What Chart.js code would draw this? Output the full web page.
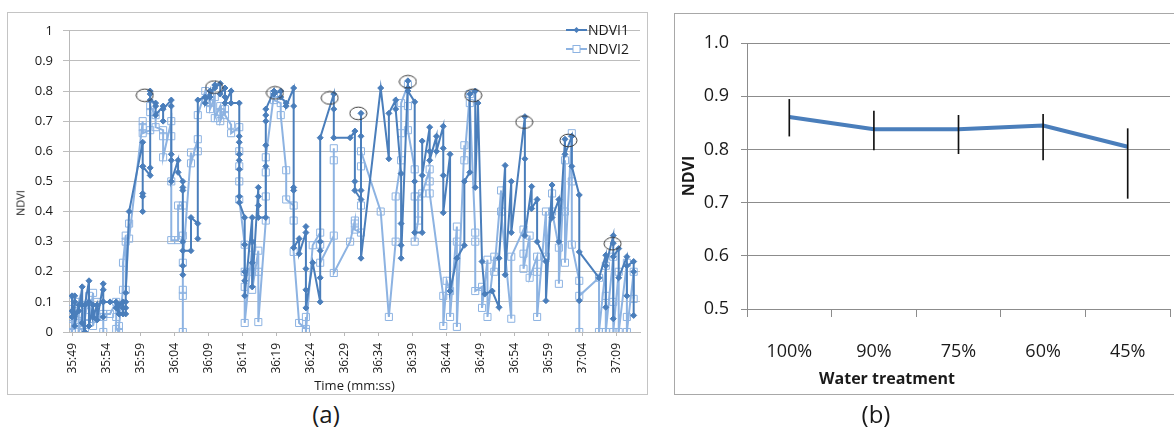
<!DOCTYPE html>
<html>
<head>
<meta charset="utf-8">
<script src="https://cdn.jsdelivr.net/npm/chart.js@4.4.1/dist/chart.umd.min.js"></script>
<style>
    body { margin: 0; width: 1174px; height: 430px; overflow: hidden; background: #fff; font-family: 'Open Sans', sans-serif; color: #1a1a1a; }
    .frame { position: absolute; box-sizing: border-box; }
    #frameA { left: 7px; top: 12px; width: 641px; height: 383px; border: 1px solid #c4c4c4; }
    #frameB { left: 674px; top: 13px; width: 510px; height: 382px; border: 1px solid #a8a8a8; }
    .frame canvas { position: absolute; left: 0; top: 0; }
    .txt { position: absolute; white-space: nowrap; transform: translate(-50%, -50%); }
    .cap { font-size: 24px; line-height: 28px; }
    #legendA { position: absolute; left: 566px; top: 20px; font-size: 14px; line-height: 19px; }
    #legendA .row { height: 19px; display: flex; align-items: center; }
    #legendA svg { margin-right: 1px; }
</style>
</head>
<body>
<div class="frame" id="frameA"><canvas id="chart-a" width="639" height="381"></canvas></div>
<div class="frame" id="frameB"><canvas id="chart-b" width="500" height="380"></canvas></div>
<div id="legendA"></div>
<div class="txt" style="left:20px; top:203px; font-size:11px; transform: translate(-50%, -50%) rotate(-90deg);">NDVI</div>
<div class="txt" style="left:887px; top:378px; font-size:16px; font-weight:bold;">Water treatment</div>
<div class="txt cap" style="left:326px; top:414px;">(a)</div>
<div class="txt cap" style="left:876px; top:414px;">(b)</div>
<script>
Chart.defaults.font.family = "'Open Sans', sans-serif";
Chart.defaults.color = '#1a1a1a';
Chart.defaults.animation = false;

const DARK = '#4a7ebb', LIGHT = '#8db3e2';

// panel (a): seconds after 35:00, readings taken at each second
const timeTicks = ['35:49', '35:54', '35:59', '36:04', '36:09', '36:14', '36:19', '36:24', '36:29',
    '36:34', '36:39', '36:44', '36:49', '36:54', '36:59', '37:04', '37:09'];

const ndvi1Sec = [48.9, 49.3, 49.9, 50.4, 50.8, 51.4, 52.0, 52.6, 53.5, 54.5,
    55.4, 55.8, 56.4, 56.8, 57.3, 59.3, 60.4, 61.2, 62.3, 63.5,
    64.5, 65.2, 66.4, 67.4, 68.5, 69.2, 69.9, 70.7, 71.4, 72.3,
    73.5, 74.3, 75.4, 76.3, 77.4, 78.6, 79.6, 80.4, 81.5, 82.3,
    83.3, 84.3, 85.4, 87.4, 89.8, 90.5, 91.4, 94.3, 95.5, 96.5,
    97.3, 98.3, 99.3, 100.4, 101.5, 102.5, 103.5, 104.5, 105.5, 106.6,
    107.4, 108.2, 108.6, 109.2, 109.6, 110.7, 111.7, 112.6, 113.5, 115.5,
    116.5, 117.3, 118.6, 119.5, 120.5, 121.4, 122.4, 123.5, 126.4, 127.4,
    128.5, 129.3, 130.5, 131.5];
const ndvi1Val = [
    [.12, .07, .05], [.10, .12, .06, .02], [.09, .07], [.15, .09, .03], [0, .09],
    [.17, .10, .02], [.09, .05], [.09, .04], [.16, .14, .10, .05, .10], [.10],
    [.10, .08], [.06, .09], [.10, .08, .06], [.06, .08, .10, .13], [.40],
    [.63, .55, .46, .45, .40, .55], [.52, .545, .79, .80, .77], [.76, .75, .72], [.75, .70, .74], [.77, .75, .59, .57, .50],
    [.57, .53], [.50, .48, .47, .30, .22, .19, .27], [.27, .38], [.36, .31, .77], [.78, .76],
    [.80, .78], [.82, .81], [.825, .79], [.81, .78, .76], [.80, .76],
    [.76, .65, .63, .59, .57, .54, .45, .43], [.38, .29, .20, .17, .12], [.38, .30, .23, .15], [.48, .45, .42, .38], [.38, .55, .62, .70, .72, .74],
    [.80, .79], [.80, .78], [.76, .75], [.81, .75, .48, .47, .28], [.31, .26],
    [.33, .35, .21, .14, .08], [.23], [.10, .18, .27, .30, .645], [.79, .74, .645], [.645],
    [.667, .50, .47], [.44, .726, .65, .47, .245], [.81], [.575, .726], [.77, .74],
    [.526, .36, .288, .245], [.834, .81, .80], [.764, .50, .33], [.33, .634, .52], [.68, .60, .57],
    [.65, .60], [.683, .61, .52, .396], [.59, .136], [.245], [.288, .50],
    [.53, .79], [.80, .48], [.76], [.234], [.126],
    [.136], [.082, .245], [.553, .19], [.50, .33], [.715, .575, .32],
    [.483, .41], [.44, .30], [.234, .104], [.488, .38], [.44, .30],
    [.64, .59], [.65, .55], [.455, .104, .266], [.18], [.255, .082, .22],
    [.32, .295, .044, .25], [.277, .18], [.25, .12, .22], [.234, .055, .20]];

const ndvi2Sec = [48.9, 49.3, 49.9, 50.4, 50.8, 51.4, 52.0, 52.6, 53.5, 54.5,
    55.4, 55.8, 56.4, 56.8, 57.3, 59.3, 60.4, 61.2, 62.3, 63.5,
    64.5, 65.2, 66.4, 67.4, 68.5, 69.2, 69.9, 70.7, 71.4, 72.3,
    73.5, 74.3, 75.4, 76.3, 77.4, 78.6, 79.6, 80.4, 81.5, 82.3,
    83.3, 84.3, 85.4, 87.4, 89.8, 90.5, 91.4, 94.3, 95.5, 96.5,
    97.3, 98.3, 99.3, 99.8, 100.4, 101.5, 103.5, 104.0, 104.5, 105.5,
    106.6, 107.4, 108.2, 109.2, 110.0, 111.0, 112.0, 113.5, 115.3, 116.2,
    117.3, 118.6, 119.5, 120.5, 121.4, 122.4, 123.5, 126.4, 127.4, 128.5,
    129.3, 130.5, 131.5];
const ndvi2Val = [
    [.02, .10, .05, 0], [.07, .01, .04], [.10, .03, 0], [.06, .02], [.09, 0, .05],
    [.12, .03], [.13, .06, .02], [.10, .05], [.05, 0, .06], [.06],
    [.10, .05, .01], [0, .02], [.14, .23], [.32, .30, .14], [.36, .31],
    [.70, .68, .66], [.67, .73, .75], [.72, .68], [.67, .65, .58], [.70, .65, .50, .305],
    [.305, .42], [.42, .32, .14, .12, 0, .23], [.596, .56], [.64, .60, .72], [.80, .77],
    [.79, .76, .74], [.78, .71], [.75, .73, .70], [.74, .72], [.688, .66],
    [.68, .60, .55, .50, .44], [.29, .20, .15, .03], [.28, .20, .14], [.27, .20, .033], [.37, .45, .53, .58],
    [.79, .77], [.76, .72], [.537, .44], [.42, .37, .266], [.03],
    [.01, .05, 0], [.288], [.33, .29, .23], [.32, .57, .61, .196], [.30],
    [.37, .36, .34], [.33, .42, .55, .60], [.40], [.05], [.30, .45],
    [.57, .66, .76], [.82, .75, .67], [.54, .45, .30], [.37, .45], [.46],
    [.54, .50, .46], [.12, .02], [.17], [.136, .05], [.35, .30, .017],
    [.62, .57], [.79, .76], [.33, .30, .136], [.15, .08], [.24, .05],
    [.25, .20], [.47, .40], [.044, .25], [.34, .26, .21], [.32, .18],
    [.25, .20, .05], [.40, .25], [.46, .40], [.28, .16], [.57, .40, .23],
    [.66, .50, .29], [.17, 0, .12], [.18, 0], [.22, .12, 0], [.25, .10, 0],
    [.20, 0], [.23, .05, 0], [.20, .11]];

// circled peaks
const peakSec = [59.6, 69.8, 78.75, 86.8, 91.0, 98.3, 107.9, 115.4, 121.9, 128.4];
const peakVal = [.786, .813, .794, .777, .726, .831, .786, .697, .636, .293];

// panel (b)
const treatments = ['100%', '90%', '75%', '60%', '45%'];
const ndviMean = [0.861, 0.838, 0.838, 0.845, 0.805];
const errLow = [0.825, 0.799, 0.792, 0.780, 0.708];
const errHigh = [0.894, 0.872, 0.864, 0.866, 0.839];

function toSec(label) {
    const [m, s] = label.split(':').map(Number);
    return (m - 35) * 60 + s;
}

function points(times, groups) {
    const pts = [];
    times.forEach((t, i) => groups[i].forEach(v => pts.push({ x: t, y: v })));
    return pts;
}

const ellipse = document.createElement('canvas');
ellipse.width = 19; ellipse.height = 15;
const ec = ellipse.getContext('2d');
ec.strokeStyle = '#3c3c3c'; ec.lineWidth = 1;
ec.beginPath(); ec.ellipse(9.5, 7.5, 8.5, 6.3, 0, 0, Math.PI * 2); ec.stroke();

// legend for (a), inside the plot, top right
document.getElementById('legendA').innerHTML =
    '<div class="row"><svg width="21" height="10"><line x1="0" y1="5" x2="21" y2="5" stroke="' + DARK + '" stroke-width="2"/>' +
    '<path d="M10.5 2 L13.5 5 L10.5 8 L7.5 5 Z" fill="' + DARK + '"/></svg>NDVI1</div>' +
    '<div class="row"><svg width="21" height="10"><line x1="0" y1="5" x2="21" y2="5" stroke="' + LIGHT + '" stroke-width="2"/>' +
    '<rect x="7" y="1.5" width="7" height="7" fill="#fff" stroke="' + LIGHT + '"/></svg>NDVI2</div>';

new Chart(document.getElementById('chart-a'), {
    type: 'line',
    data: {
        datasets: [
            { label: 'NDVI1', data: points(ndvi1Sec, ndvi1Val), borderColor: DARK, backgroundColor: DARK, borderWidth: 2, pointStyle: 'rectRot', pointRadius: 3, pointBorderWidth: 1, tension: 0, order: 1 },
            { label: 'NDVI2', data: points(ndvi2Sec, ndvi2Val), borderColor: LIGHT, backgroundColor: 'rgba(255,255,255,0)', borderWidth: 2, pointStyle: 'rect', pointRadius: 5, pointBorderWidth: 1, tension: 0, order: 2 },
            { label: 'peaks', data: peakSec.map((t, i) => ({ x: t, y: peakVal[i] })), showLine: false, pointStyle: ellipse, order: 0 }
        ]
    },
    options: {
        responsive: false,
        layout: { padding: { top: 11, right: 7, left: 0, bottom: 0 } },
        plugins: { legend: { display: false }, tooltip: { enabled: false } },
        scales: {
            x: {
                type: 'linear', min: 48.46, max: 132.43,
                afterBuildTicks: s => { s.ticks = timeTicks.map(l => ({ value: toSec(l) })); },
                afterFit: s => { s.height = 62; },
                ticks: { autoSkip: false, maxRotation: 90, minRotation: 90, padding: 7, font: { size: 12 }, callback: (v, i) => timeTicks[i] },
                grid: { drawOnChartArea: false, tickLength: 4, color: '#b9b9b9' },
                border: { color: '#b9b9b9' },
                title: { display: true, text: 'Time (mm:ss)', font: { size: 13 }, padding: { top: 0, bottom: 0 } }
            },
            y: {
                min: 0, max: 1,
                afterFit: s => { s.width = 61; },
                ticks: { stepSize: 0.1, padding: 10, font: { size: 13 }, callback: v => String(Math.round(v * 10) / 10) },
                grid: { color: '#bdbdbd', tickLength: 6 },
                border: { color: '#b9b9b9' }
            }
        }
    }
});

new Chart(document.getElementById('chart-b'), {
    type: 'line',
    data: {
        labels: treatments,
        datasets: [
            { type: 'bar', label: 'error', data: errLow.map((l, i) => [l, errHigh[i]]), backgroundColor: '#111', barThickness: 1, order: 0 },
            { label: 'NDVI', data: ndviMean, borderColor: DARK, borderWidth: 4, pointRadius: 0, tension: 0, order: 1 }
        ]
    },
    options: {
        responsive: false,
        layout: { padding: { top: 29, right: 5, left: 0, bottom: 0 } },
        plugins: { legend: { display: false }, tooltip: { enabled: false } },
        scales: {
            x: {
                offset: true,
                afterFit: s => { s.height = 85; },
                ticks: { padding: 24, font: { size: 18 } },
                grid: { offset: true, drawOnChartArea: false, tickLength: 8, color: '#8c8c8c' },
                border: { color: '#8c8c8c' }
            },
            y: {
                min: 0.5, max: 1.0,
                afterFit: s => { s.width = 72; },
                ticks: { stepSize: 0.1, padding: 12, font: { size: 18 }, callback: v => v.toFixed(1) },
                grid: { color: '#8c8c8c', tickLength: 6 },
                border: { color: '#8c8c8c' },
                title: { display: true, text: 'NDVI', font: { size: 16, weight: 'bold' }, padding: { top: 5, bottom: 0 } }
            }
        }
    }
});
</script>
</body>
</html>
